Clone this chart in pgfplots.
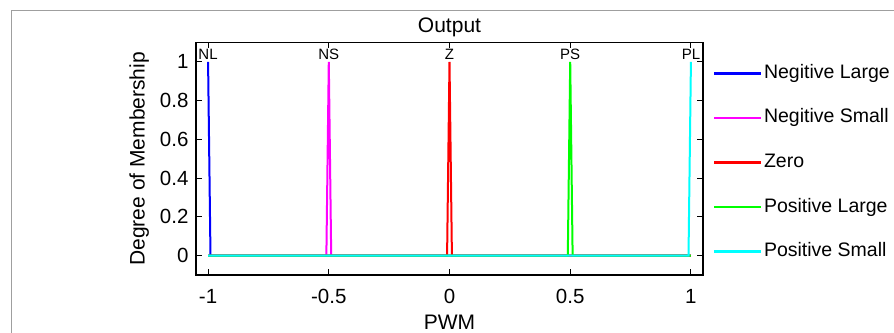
\documentclass[border=0pt]{standalone}
\usepackage{fontspec}
\setmainfont{Liberation Sans}
\usepackage{pgfplots}
\pgfplotsset{compat=1.18}

\definecolor{mfblue}{RGB}{0,0,255}
\definecolor{mfmagenta}{RGB}{255,0,255}
\definecolor{mfred}{RGB}{255,0,0}
\definecolor{mfgreen}{RGB}{0,255,0}
\definecolor{mfcyan}{RGB}{0,255,255}

\newcommand{\tickf}{\fontsize{20.5bp}{23bp}\selectfont}
\newcommand{\labf}{\fontsize{21bp}{24bp}\selectfont}
\newcommand{\legf}{\fontsize{19.5bp}{22bp}\selectfont}
\newcommand{\tagf}{\fontsize{15bp}{17bp}\selectfont}

\begin{document}
\begin{tikzpicture}
\useasboundingbox (0,0) rectangle (894bp,333bp);
% figure frame
\draw[gray!75, line width=1bp] (11bp,0bp) -- (11bp,322bp) -- (894bp,322bp);
\begin{axis}[
  at={(196bp,58bp)}, anchor=south west,
  scale only axis, width=507bp, height=232.5bp,
  xmin=-1.05, xmax=1.05, ymin=-0.1, ymax=1.1,
  xtick={-1,-0.5,0,0.5,1}, xticklabels={-1,-0.5,0,0.5,1},
  ytick={0,0.2,0.4,0.6,0.8,1}, yticklabels={0,0.2,0.4,0.6,0.8,1},
  xtick pos=both, ytick pos=both,
  xticklabel pos=left, yticklabel pos=left,
  tick align=inside, major tick length=6bp,
  axis line style={line width=1.3bp},
  every tick/.style={black, line width=1bp},
  ticklabel style={font=\tickf},
  xticklabel style={yshift=-11bp},
  yticklabel style={xshift=-4bp},
  xlabel={PWM}, ylabel={Degree of Membership}, title={Output},
  label style={font=\labf},
  every axis title shift=0pt,
  title style={font=\labf, at={(axis description cs:0.5,1.065)}, anchor=center, yshift=0pt},
  xlabel style={at={(axis description cs:0.5,-0.202)}, anchor=center},
  ylabel style={at={(axis description cs:-0.112,0.5)}, anchor=center},
  legend style={draw=none, fill=none, inner sep=0pt, outer sep=0pt,
    at={(axis description cs:1,1)}, anchor=north west,
    xshift=10bp, yshift=-22bp,
    row sep=26.5bp, column sep=2bp,
    nodes={inner sep=0pt, text height=14bp, text depth=4bp, font=\legf}},
  legend cell align=left,
  legend image code/.code={\draw[#1, line width=2bp] (0bp,0bp) -- (47bp,0bp);},
  every axis plot/.append style={line width=2bp},
  clip=false,
]
\addplot[mfblue]    coordinates {(-1,1) (-0.99,0) (1,0)};
\addplot[mfmagenta] coordinates {(-1,0) (-0.51,0) (-0.5,1) (-0.49,0) (1,0)};
\addplot[mfred]     coordinates {(-1,0) (-0.01,0) (0,1) (0.01,0) (1,0)};
\addplot[mfgreen]   coordinates {(-1,0) (0.49,0) (0.5,1) (0.51,0) (1,0)};
\addplot[mfcyan]    coordinates {(-1,0) (0.99,0) (1,1)};
\legend{Negitive Large, Negitive Small, Zero, Positive Large, Positive Small}
\node[font=\tagf] at (axis cs:-1,1.04) {NL};
\node[font=\tagf] at (axis cs:-0.5,1.04) {NS};
\node[font=\tagf] at (axis cs:0,1.04) {Z};
\node[font=\tagf] at (axis cs:0.5,1.04) {PS};
\node[font=\tagf] at (axis cs:1,1.04) {PL};
\end{axis}
\end{tikzpicture}
\end{document}
